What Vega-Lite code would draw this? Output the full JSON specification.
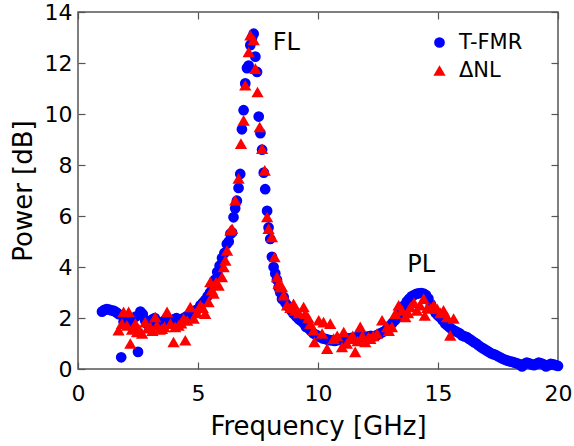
{
  "$schema": "https://vega.github.io/schema/vega-lite/v6.json",
  "width": 480,
  "height": 357,
  "autosize": "none",
  "padding": {"left": 78, "top": 12, "right": 16, "bottom": 77},
  "background": "white",
  "config": {
    "font": "DejaVu Sans",
    "view": {"stroke": "#555555", "strokeWidth": 1.5},
    "axis": {
      "domain": false,
      "grid": false,
      "tickColor": "#555555",
      "tickWidth": 1.2,
      "tickSize": -7,
      "labelFlush": false,
      "labelFontSize": 22,
      "labelColor": "#000000",
      "labelFont": "DejaVu Sans",
      "titleFontSize": 26,
      "titleFontWeight": "normal",
      "titleColor": "#000000",
      "titleFont": "DejaVu Sans"
    }
  },
  "datasets": {
    "meas": [
      {"series": "T-FMR", "f": 1.0, "p": 2.25},
      {"series": "T-FMR", "f": 1.1, "p": 2.32},
      {"series": "T-FMR", "f": 1.2, "p": 2.35},
      {"series": "T-FMR", "f": 1.3, "p": 2.33},
      {"series": "T-FMR", "f": 1.4, "p": 2.3},
      {"series": "T-FMR", "f": 1.5, "p": 2.28},
      {"series": "T-FMR", "f": 1.6, "p": 2.22},
      {"series": "T-FMR", "f": 1.7, "p": 2.15},
      {"series": "T-FMR", "f": 1.8, "p": 0.46},
      {"series": "T-FMR", "f": 1.9, "p": 1.85},
      {"series": "T-FMR", "f": 2.0, "p": 2.0},
      {"series": "T-FMR", "f": 2.1, "p": 1.9},
      {"series": "T-FMR", "f": 2.2, "p": 1.75},
      {"series": "T-FMR", "f": 2.3, "p": 1.6},
      {"series": "T-FMR", "f": 2.4, "p": 2.05},
      {"series": "T-FMR", "f": 2.5, "p": 0.67},
      {"series": "T-FMR", "f": 2.6, "p": 2.25},
      {"series": "T-FMR", "f": 2.7, "p": 2.15},
      {"series": "T-FMR", "f": 2.8, "p": 1.9},
      {"series": "T-FMR", "f": 2.9, "p": 1.75},
      {"series": "T-FMR", "f": 3.0, "p": 1.8},
      {"series": "T-FMR", "f": 3.1, "p": 1.95},
      {"series": "T-FMR", "f": 3.2, "p": 2.0},
      {"series": "T-FMR", "f": 3.3, "p": 1.85},
      {"series": "T-FMR", "f": 3.4, "p": 1.7},
      {"series": "T-FMR", "f": 3.5, "p": 1.75},
      {"series": "T-FMR", "f": 3.6, "p": 1.9},
      {"series": "T-FMR", "f": 3.7, "p": 2.0},
      {"series": "T-FMR", "f": 3.8, "p": 1.85},
      {"series": "T-FMR", "f": 3.9, "p": 1.9},
      {"series": "T-FMR", "f": 4.0, "p": 1.95},
      {"series": "T-FMR", "f": 4.1, "p": 2.0},
      {"series": "T-FMR", "f": 4.2, "p": 1.95},
      {"series": "T-FMR", "f": 4.3, "p": 1.9},
      {"series": "T-FMR", "f": 4.4, "p": 2.0},
      {"series": "T-FMR", "f": 4.5, "p": 2.05},
      {"series": "T-FMR", "f": 4.6, "p": 2.1},
      {"series": "T-FMR", "f": 4.7, "p": 2.15},
      {"series": "T-FMR", "f": 4.8, "p": 2.2},
      {"series": "T-FMR", "f": 4.9, "p": 2.3},
      {"series": "T-FMR", "f": 5.0, "p": 2.35},
      {"series": "T-FMR", "f": 5.1, "p": 2.5},
      {"series": "T-FMR", "f": 5.2, "p": 2.6},
      {"series": "T-FMR", "f": 5.3, "p": 2.7},
      {"series": "T-FMR", "f": 5.4, "p": 2.85},
      {"series": "T-FMR", "f": 5.5, "p": 3.0},
      {"series": "T-FMR", "f": 5.6, "p": 3.25},
      {"series": "T-FMR", "f": 5.7, "p": 3.5},
      {"series": "T-FMR", "f": 5.8, "p": 3.8},
      {"series": "T-FMR", "f": 5.9, "p": 4.05},
      {"series": "T-FMR", "f": 6.0, "p": 4.35},
      {"series": "T-FMR", "f": 6.1, "p": 4.55},
      {"series": "T-FMR", "f": 6.2, "p": 4.9},
      {"series": "T-FMR", "f": 6.28, "p": 5.0},
      {"series": "T-FMR", "f": 6.35, "p": 5.3},
      {"series": "T-FMR", "f": 6.42, "p": 5.35},
      {"series": "T-FMR", "f": 6.48, "p": 5.95},
      {"series": "T-FMR", "f": 6.55, "p": 6.3},
      {"series": "T-FMR", "f": 6.62, "p": 6.6},
      {"series": "T-FMR", "f": 6.69, "p": 7.1},
      {"series": "T-FMR", "f": 6.76, "p": 7.65},
      {"series": "T-FMR", "f": 6.83, "p": 9.4},
      {"series": "T-FMR", "f": 6.9, "p": 10.15},
      {"series": "T-FMR", "f": 6.97, "p": 11.2},
      {"series": "T-FMR", "f": 7.04, "p": 11.8},
      {"series": "T-FMR", "f": 7.11, "p": 11.9},
      {"series": "T-FMR", "f": 7.18, "p": 12.7},
      {"series": "T-FMR", "f": 7.25, "p": 13.0},
      {"series": "T-FMR", "f": 7.32, "p": 13.15},
      {"series": "T-FMR", "f": 7.39, "p": 12.25},
      {"series": "T-FMR", "f": 7.46, "p": 11.65},
      {"series": "T-FMR", "f": 7.53, "p": 9.9},
      {"series": "T-FMR", "f": 7.6, "p": 9.25},
      {"series": "T-FMR", "f": 7.67, "p": 8.6},
      {"series": "T-FMR", "f": 7.74, "p": 7.7},
      {"series": "T-FMR", "f": 7.8, "p": 7.05},
      {"series": "T-FMR", "f": 7.88, "p": 6.2},
      {"series": "T-FMR", "f": 7.94, "p": 5.55},
      {"series": "T-FMR", "f": 8.01, "p": 5.1},
      {"series": "T-FMR", "f": 8.08, "p": 4.4},
      {"series": "T-FMR", "f": 8.15, "p": 4.0},
      {"series": "T-FMR", "f": 8.22, "p": 3.75},
      {"series": "T-FMR", "f": 8.29, "p": 3.5},
      {"series": "T-FMR", "f": 8.36, "p": 3.2},
      {"series": "T-FMR", "f": 8.43, "p": 3.0},
      {"series": "T-FMR", "f": 8.5, "p": 2.75},
      {"series": "T-FMR", "f": 8.57, "p": 2.82},
      {"series": "T-FMR", "f": 8.64, "p": 2.6},
      {"series": "T-FMR", "f": 8.71, "p": 2.5},
      {"series": "T-FMR", "f": 8.78, "p": 2.43},
      {"series": "T-FMR", "f": 8.88, "p": 2.3},
      {"series": "T-FMR", "f": 8.98, "p": 2.17},
      {"series": "T-FMR", "f": 9.1, "p": 2.05},
      {"series": "T-FMR", "f": 9.2, "p": 1.95},
      {"series": "T-FMR", "f": 9.3, "p": 1.88},
      {"series": "T-FMR", "f": 9.4, "p": 1.8},
      {"series": "T-FMR", "f": 9.5, "p": 1.65},
      {"series": "T-FMR", "f": 9.6, "p": 1.6},
      {"series": "T-FMR", "f": 9.7, "p": 1.5},
      {"series": "T-FMR", "f": 9.8, "p": 1.4},
      {"series": "T-FMR", "f": 9.9, "p": 1.35},
      {"series": "T-FMR", "f": 10.0, "p": 1.3},
      {"series": "T-FMR", "f": 10.1, "p": 1.25},
      {"series": "T-FMR", "f": 10.2, "p": 1.2},
      {"series": "T-FMR", "f": 10.3, "p": 1.18},
      {"series": "T-FMR", "f": 10.4, "p": 1.15},
      {"series": "T-FMR", "f": 10.5, "p": 1.13},
      {"series": "T-FMR", "f": 10.6, "p": 1.12},
      {"series": "T-FMR", "f": 10.7, "p": 1.1},
      {"series": "T-FMR", "f": 10.8, "p": 1.13},
      {"series": "T-FMR", "f": 10.9, "p": 1.15},
      {"series": "T-FMR", "f": 11.0, "p": 1.12},
      {"series": "T-FMR", "f": 11.1, "p": 1.18},
      {"series": "T-FMR", "f": 11.2, "p": 1.2},
      {"series": "T-FMR", "f": 11.3, "p": 1.19},
      {"series": "T-FMR", "f": 11.4, "p": 1.22},
      {"series": "T-FMR", "f": 11.5, "p": 1.2},
      {"series": "T-FMR", "f": 11.6, "p": 1.25},
      {"series": "T-FMR", "f": 11.7, "p": 1.23},
      {"series": "T-FMR", "f": 11.8, "p": 1.25},
      {"series": "T-FMR", "f": 11.9, "p": 1.27},
      {"series": "T-FMR", "f": 12.0, "p": 1.25},
      {"series": "T-FMR", "f": 12.1, "p": 1.28},
      {"series": "T-FMR", "f": 12.2, "p": 1.3},
      {"series": "T-FMR", "f": 12.3, "p": 1.28},
      {"series": "T-FMR", "f": 12.4, "p": 1.3},
      {"series": "T-FMR", "f": 12.5, "p": 1.35},
      {"series": "T-FMR", "f": 12.6, "p": 1.4},
      {"series": "T-FMR", "f": 12.7, "p": 1.45},
      {"series": "T-FMR", "f": 12.8, "p": 1.5},
      {"series": "T-FMR", "f": 12.9, "p": 1.6},
      {"series": "T-FMR", "f": 13.0, "p": 1.7},
      {"series": "T-FMR", "f": 13.1, "p": 1.8},
      {"series": "T-FMR", "f": 13.2, "p": 1.9},
      {"series": "T-FMR", "f": 13.3, "p": 2.0},
      {"series": "T-FMR", "f": 13.4, "p": 2.2},
      {"series": "T-FMR", "f": 13.5, "p": 2.4},
      {"series": "T-FMR", "f": 13.6, "p": 2.5},
      {"series": "T-FMR", "f": 13.7, "p": 2.65},
      {"series": "T-FMR", "f": 13.8, "p": 2.75},
      {"series": "T-FMR", "f": 13.9, "p": 2.85},
      {"series": "T-FMR", "f": 14.0, "p": 2.9},
      {"series": "T-FMR", "f": 14.1, "p": 2.95},
      {"series": "T-FMR", "f": 14.2, "p": 2.97},
      {"series": "T-FMR", "f": 14.3, "p": 2.98},
      {"series": "T-FMR", "f": 14.4, "p": 2.96},
      {"series": "T-FMR", "f": 14.5, "p": 2.9},
      {"series": "T-FMR", "f": 14.6, "p": 2.76},
      {"series": "T-FMR", "f": 14.7, "p": 2.55},
      {"series": "T-FMR", "f": 14.8, "p": 2.35},
      {"series": "T-FMR", "f": 14.9, "p": 2.2},
      {"series": "T-FMR", "f": 15.0, "p": 2.1},
      {"series": "T-FMR", "f": 15.1, "p": 2.02},
      {"series": "T-FMR", "f": 15.2, "p": 1.9},
      {"series": "T-FMR", "f": 15.3, "p": 1.78},
      {"series": "T-FMR", "f": 15.4, "p": 1.7},
      {"series": "T-FMR", "f": 15.5, "p": 1.62},
      {"series": "T-FMR", "f": 15.6, "p": 1.55},
      {"series": "T-FMR", "f": 15.7, "p": 1.5},
      {"series": "T-FMR", "f": 15.8, "p": 1.45},
      {"series": "T-FMR", "f": 15.9, "p": 1.4},
      {"series": "T-FMR", "f": 16.0, "p": 1.32},
      {"series": "T-FMR", "f": 16.1, "p": 1.28},
      {"series": "T-FMR", "f": 16.2, "p": 1.25},
      {"series": "T-FMR", "f": 16.3, "p": 1.18},
      {"series": "T-FMR", "f": 16.4, "p": 1.12},
      {"series": "T-FMR", "f": 16.5, "p": 1.05},
      {"series": "T-FMR", "f": 16.6, "p": 1.0},
      {"series": "T-FMR", "f": 16.7, "p": 0.92},
      {"series": "T-FMR", "f": 16.8, "p": 0.85},
      {"series": "T-FMR", "f": 16.9, "p": 0.8},
      {"series": "T-FMR", "f": 17.0, "p": 0.74},
      {"series": "T-FMR", "f": 17.1, "p": 0.68},
      {"series": "T-FMR", "f": 17.2, "p": 0.62},
      {"series": "T-FMR", "f": 17.3, "p": 0.58},
      {"series": "T-FMR", "f": 17.4, "p": 0.55},
      {"series": "T-FMR", "f": 17.5, "p": 0.5},
      {"series": "T-FMR", "f": 17.6, "p": 0.45},
      {"series": "T-FMR", "f": 17.7, "p": 0.4},
      {"series": "T-FMR", "f": 17.8, "p": 0.36},
      {"series": "T-FMR", "f": 17.9, "p": 0.33},
      {"series": "T-FMR", "f": 18.0, "p": 0.3},
      {"series": "T-FMR", "f": 18.1, "p": 0.28},
      {"series": "T-FMR", "f": 18.2, "p": 0.25},
      {"series": "T-FMR", "f": 18.3, "p": 0.22},
      {"series": "T-FMR", "f": 18.4, "p": 0.18},
      {"series": "T-FMR", "f": 18.5, "p": 0.1},
      {"series": "T-FMR", "f": 18.6, "p": 0.2},
      {"series": "T-FMR", "f": 18.7, "p": 0.25},
      {"series": "T-FMR", "f": 18.8, "p": 0.22},
      {"series": "T-FMR", "f": 18.9, "p": 0.18},
      {"series": "T-FMR", "f": 19.0, "p": 0.15},
      {"series": "T-FMR", "f": 19.1, "p": 0.2},
      {"series": "T-FMR", "f": 19.2, "p": 0.25},
      {"series": "T-FMR", "f": 19.3, "p": 0.22},
      {"series": "T-FMR", "f": 19.4, "p": 0.18},
      {"series": "T-FMR", "f": 19.5, "p": 0.1},
      {"series": "T-FMR", "f": 19.6, "p": 0.15},
      {"series": "T-FMR", "f": 19.7, "p": 0.2},
      {"series": "T-FMR", "f": 19.8, "p": 0.18},
      {"series": "T-FMR", "f": 19.9, "p": 0.15},
      {"series": "T-FMR", "f": 20.0, "p": 0.12},
      {"series": "ΔNL", "f": 1.69, "p": 1.52},
      {"series": "ΔNL", "f": 1.83, "p": 1.78},
      {"series": "ΔNL", "f": 1.9, "p": 2.24},
      {"series": "ΔNL", "f": 2.04, "p": 1.71},
      {"series": "ΔNL", "f": 2.11, "p": 2.24},
      {"series": "ΔNL", "f": 2.18, "p": 1.0},
      {"series": "ΔNL", "f": 2.25, "p": 1.55},
      {"series": "ΔNL", "f": 2.39, "p": 1.78},
      {"series": "ΔNL", "f": 2.46, "p": 1.45},
      {"series": "ΔNL", "f": 2.53, "p": 1.58},
      {"series": "ΔNL", "f": 2.67, "p": 1.39},
      {"series": "ΔNL", "f": 2.8, "p": 1.84},
      {"series": "ΔNL", "f": 2.9, "p": 1.6},
      {"series": "ΔNL", "f": 3.01, "p": 1.65},
      {"series": "ΔNL", "f": 3.1, "p": 1.5},
      {"series": "ΔNL", "f": 3.22, "p": 2.04},
      {"series": "ΔNL", "f": 3.29, "p": 1.71},
      {"series": "ΔNL", "f": 3.4, "p": 1.55},
      {"series": "ΔNL", "f": 3.5, "p": 1.58},
      {"series": "ΔNL", "f": 3.6, "p": 1.65},
      {"series": "ΔNL", "f": 3.71, "p": 2.24},
      {"series": "ΔNL", "f": 3.85, "p": 1.78},
      {"series": "ΔNL", "f": 3.98, "p": 1.06},
      {"series": "ΔNL", "f": 4.05, "p": 1.65},
      {"series": "ΔNL", "f": 4.19, "p": 1.71},
      {"series": "ΔNL", "f": 4.3, "p": 1.8},
      {"series": "ΔNL", "f": 4.4, "p": 1.98},
      {"series": "ΔNL", "f": 4.47, "p": 1.13},
      {"series": "ΔNL", "f": 4.55, "p": 1.9},
      {"series": "ΔNL", "f": 4.68, "p": 2.43},
      {"series": "ΔNL", "f": 4.82, "p": 1.98},
      {"series": "ΔNL", "f": 4.95, "p": 2.2},
      {"series": "ΔNL", "f": 5.1, "p": 2.5},
      {"series": "ΔNL", "f": 5.2, "p": 2.4},
      {"series": "ΔNL", "f": 5.3, "p": 2.17},
      {"series": "ΔNL", "f": 5.44, "p": 2.63},
      {"series": "ΔNL", "f": 5.51, "p": 3.41},
      {"series": "ΔNL", "f": 5.58, "p": 3.1},
      {"series": "ΔNL", "f": 5.65, "p": 2.96},
      {"series": "ΔNL", "f": 5.75, "p": 3.4},
      {"series": "ΔNL", "f": 5.86, "p": 3.28},
      {"series": "ΔNL", "f": 6.0, "p": 3.61},
      {"series": "ΔNL", "f": 6.07, "p": 4.0},
      {"series": "ΔNL", "f": 6.14, "p": 4.26},
      {"series": "ΔNL", "f": 6.21, "p": 4.65},
      {"series": "ΔNL", "f": 6.35, "p": 5.44},
      {"series": "ΔNL", "f": 6.42, "p": 5.5},
      {"series": "ΔNL", "f": 6.55, "p": 6.62},
      {"series": "ΔNL", "f": 6.69, "p": 7.47},
      {"series": "ΔNL", "f": 6.79, "p": 8.84},
      {"series": "ΔNL", "f": 6.9, "p": 9.75},
      {"series": "ΔNL", "f": 6.97, "p": 11.13},
      {"series": "ΔNL", "f": 7.11, "p": 12.43},
      {"series": "ΔNL", "f": 7.18, "p": 13.09},
      {"series": "ΔNL", "f": 7.32, "p": 12.9},
      {"series": "ΔNL", "f": 7.39, "p": 11.78},
      {"series": "ΔNL", "f": 7.48, "p": 10.86},
      {"series": "ΔNL", "f": 7.57, "p": 9.49},
      {"series": "ΔNL", "f": 7.67, "p": 8.64},
      {"series": "ΔNL", "f": 7.78, "p": 7.79},
      {"series": "ΔNL", "f": 7.88, "p": 5.96},
      {"series": "ΔNL", "f": 7.94, "p": 5.5},
      {"series": "ΔNL", "f": 8.08, "p": 5.18},
      {"series": "ΔNL", "f": 8.19, "p": 4.39},
      {"series": "ΔNL", "f": 8.29, "p": 3.61},
      {"series": "ΔNL", "f": 8.36, "p": 3.35},
      {"series": "ΔNL", "f": 8.43, "p": 3.22},
      {"series": "ΔNL", "f": 8.5, "p": 3.22},
      {"series": "ΔNL", "f": 8.57, "p": 2.89},
      {"series": "ΔNL", "f": 8.71, "p": 2.5},
      {"series": "ΔNL", "f": 8.85, "p": 2.4},
      {"series": "ΔNL", "f": 8.98, "p": 2.56},
      {"series": "ΔNL", "f": 9.05, "p": 2.3},
      {"series": "ΔNL", "f": 9.2, "p": 2.2},
      {"series": "ΔNL", "f": 9.4, "p": 2.43},
      {"series": "ΔNL", "f": 9.47, "p": 2.17},
      {"series": "ΔNL", "f": 9.6, "p": 2.0},
      {"series": "ΔNL", "f": 9.68, "p": 1.78},
      {"series": "ΔNL", "f": 9.82, "p": 1.52},
      {"series": "ΔNL", "f": 9.85, "p": 1.06},
      {"series": "ΔNL", "f": 10.03, "p": 1.91},
      {"series": "ΔNL", "f": 10.17, "p": 1.39},
      {"series": "ΔNL", "f": 10.23, "p": 1.84},
      {"series": "ΔNL", "f": 10.38, "p": 0.8},
      {"series": "ΔNL", "f": 10.51, "p": 1.78},
      {"series": "ΔNL", "f": 10.65, "p": 1.19},
      {"series": "ΔNL", "f": 10.8, "p": 1.3},
      {"series": "ΔNL", "f": 11.0, "p": 0.86},
      {"series": "ΔNL", "f": 11.07, "p": 1.45},
      {"series": "ΔNL", "f": 11.2, "p": 1.0},
      {"series": "ΔNL", "f": 11.35, "p": 1.19},
      {"series": "ΔNL", "f": 11.45, "p": 1.3},
      {"series": "ΔNL", "f": 11.55, "p": 0.67},
      {"series": "ΔNL", "f": 11.65, "p": 1.1},
      {"series": "ΔNL", "f": 11.76, "p": 1.65},
      {"series": "ΔNL", "f": 11.85, "p": 1.3},
      {"series": "ΔNL", "f": 11.97, "p": 1.06},
      {"series": "ΔNL", "f": 12.1, "p": 1.25},
      {"series": "ΔNL", "f": 12.18, "p": 1.19},
      {"series": "ΔNL", "f": 12.3, "p": 1.3},
      {"series": "ΔNL", "f": 12.46, "p": 1.39},
      {"series": "ΔNL", "f": 12.67, "p": 1.91},
      {"series": "ΔNL", "f": 12.88, "p": 1.65},
      {"series": "ΔNL", "f": 12.95, "p": 1.5},
      {"series": "ΔNL", "f": 13.08, "p": 1.65},
      {"series": "ΔNL", "f": 13.22, "p": 2.17},
      {"series": "ΔNL", "f": 13.36, "p": 2.5},
      {"series": "ΔNL", "f": 13.5, "p": 2.3},
      {"series": "ΔNL", "f": 13.64, "p": 2.04},
      {"series": "ΔNL", "f": 13.75, "p": 2.2},
      {"series": "ΔNL", "f": 13.85, "p": 2.43},
      {"series": "ΔNL", "f": 14.0, "p": 2.6},
      {"series": "ΔNL", "f": 14.12, "p": 2.3},
      {"series": "ΔNL", "f": 14.25, "p": 2.5},
      {"series": "ΔNL", "f": 14.4, "p": 2.76},
      {"series": "ΔNL", "f": 14.45, "p": 2.1},
      {"series": "ΔNL", "f": 14.55, "p": 2.4},
      {"series": "ΔNL", "f": 14.68, "p": 2.37},
      {"series": "ΔNL", "f": 14.82, "p": 2.5},
      {"series": "ΔNL", "f": 14.96, "p": 2.37},
      {"series": "ΔNL", "f": 15.1, "p": 2.2},
      {"series": "ΔNL", "f": 15.23, "p": 2.3},
      {"series": "ΔNL", "f": 15.38, "p": 2.04},
      {"series": "ΔNL", "f": 15.51, "p": 1.32},
      {"series": "ΔNL", "f": 15.65, "p": 1.98}
    ],
    "notes": [
      {"label": "FL", "f": 8.68, "p": 12.77},
      {"label": "PL", "f": 14.3, "p": 4.07}
    ]
  },
  "resolve": {"axis": {"x": "independent", "y": "independent"}},
  "layer": [
    {
      "data": {"name": "meas"},
      "mark": {"type": "point", "filled": true, "opacity": 1, "strokeWidth": 0},
      "encoding": {
        "x": {
          "field": "f", "type": "quantitative",
          "scale": {"domain": [0, 20], "nice": false},
          "axis": {"values": [0, 5, 10, 15, 20], "title": "Frequency [GHz]", "labelPadding": 21, "titlePadding": 9}
        },
        "y": {
          "field": "p", "type": "quantitative",
          "scale": {"domain": [0, 14], "nice": false},
          "axis": {"values": [0, 2, 4, 6, 8, 10, 12, 14], "title": "Power [dB]", "labelPadding": 13, "titlePadding": 8}
        },
        "color": {
          "field": "series", "type": "nominal",
          "scale": {"domain": ["T-FMR", "ΔNL"], "range": ["#0000ff", "#ff0000"]},
          "legend": {
            "title": null, "orient": "none", "legendX": 351, "legendY": 20,
            "labelFontSize": 21, "labelColor": "#000000", "labelFont": "DejaVu Sans",
            "symbolSize": 85, "rowPadding": 6, "labelOffset": 9, "symbolStrokeWidth": 0
          }
        },
        "shape": {
          "field": "series", "type": "nominal",
          "scale": {"domain": ["T-FMR", "ΔNL"], "range": ["circle", "triangle-up"]}
        },
        "size": {
          "field": "series", "type": "nominal",
          "scale": {"domain": ["T-FMR", "ΔNL"], "range": [115, 150]},
          "legend": null
        }
      }
    },
    {
      "data": {"name": "notes"},
      "mark": {"type": "text", "fontSize": 24, "font": "DejaVu Sans", "color": "#000000", "align": "center", "baseline": "middle"},
      "encoding": {
        "x": {"field": "f", "type": "quantitative", "axis": {"orient": "top", "labels": false, "title": null, "values": [0, 5, 10, 15, 20]}},
        "y": {"field": "p", "type": "quantitative", "axis": {"orient": "right", "labels": false, "title": null, "values": [0, 2, 4, 6, 8, 10, 12, 14]}},
        "text": {"field": "label"}
      }
    }
  ]
}
